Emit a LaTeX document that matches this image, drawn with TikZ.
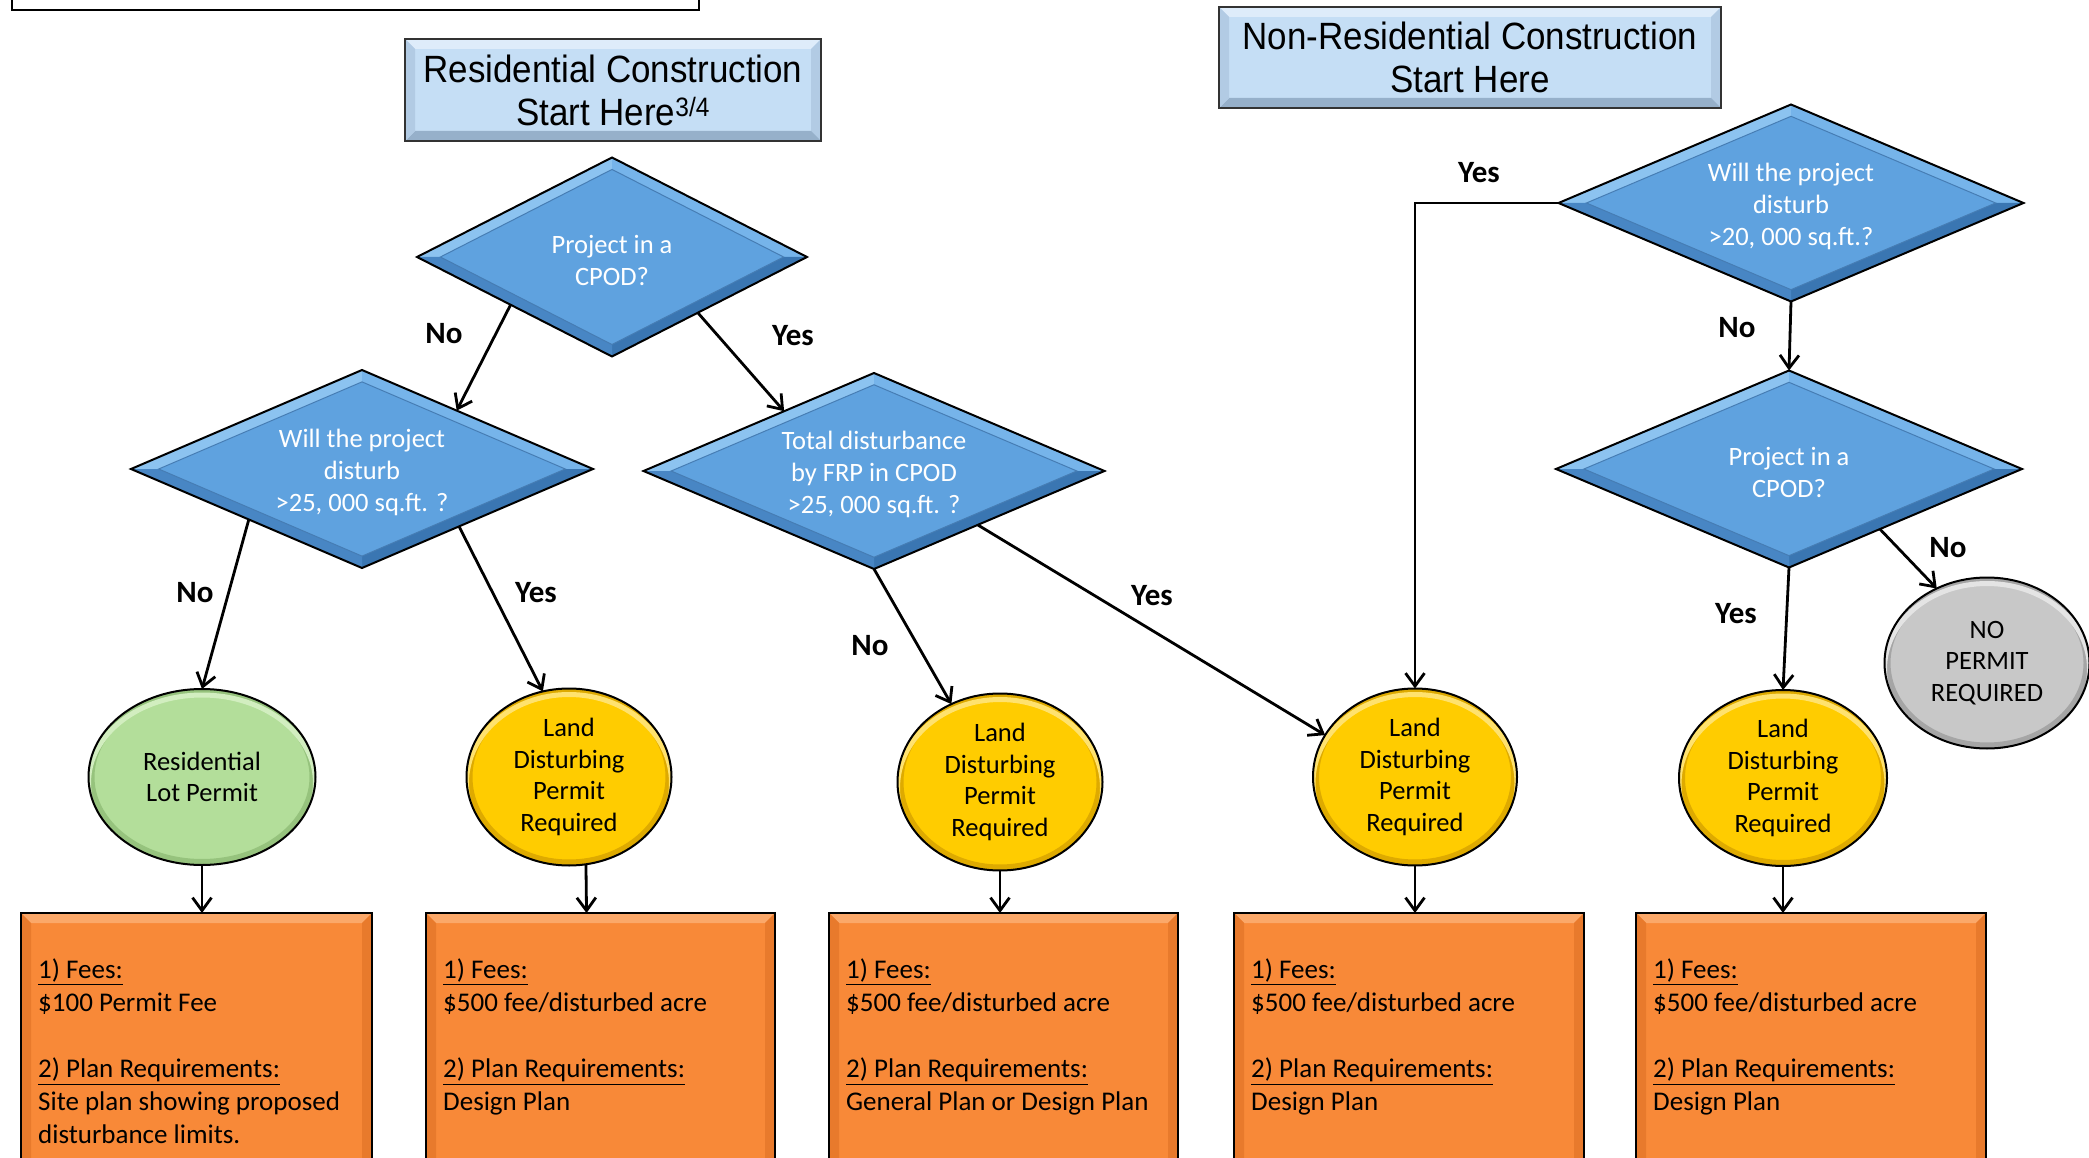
\documentclass[tikz,border=0pt]{standalone}
\usepackage{fontspec}
\setmainfont{Carlito}
\newfontfamily\titlefont[FakeStretch=0.92]{Liberation Sans}
\usetikzlibrary{shapes.geometric,arrows.meta,calc}
\definecolor{dfill}{RGB}{95,162,223}
\definecolor{dhi}{RGB}{140,195,240}
\definecolor{dhi2}{RGB}{118,180,234}
\definecolor{dlo}{RGB}{58,118,178}
\definecolor{dlo2}{RGB}{72,134,196}
\definecolor{dline}{RGB}{70,125,180}
\definecolor{yel}{RGB}{255,204,0}
\definecolor{yello}{RGB}{222,170,0}
\definecolor{yelhi}{RGB}{255,226,110}
\definecolor{grn}{RGB}{179,222,154}
\definecolor{grnlo}{RGB}{150,195,125}
\definecolor{grnhi}{RGB}{210,238,192}
\definecolor{gry}{RGB}{200,200,200}
\definecolor{grylo}{RGB}{165,165,165}
\definecolor{gryhi}{RGB}{228,228,228}
\definecolor{orng}{RGB}{248,137,56}
\definecolor{orhi}{RGB}{251,168,105}
\definecolor{orside}{RGB}{232,122,44}
\definecolor{orlo}{RGB}{205,105,35}
\definecolor{tblue}{RGB}{197,222,245}
\definecolor{tbhi}{RGB}{222,236,250}
\definecolor{tbside}{RGB}{178,203,228}
\definecolor{tblo}{RGB}{150,176,202}
\newcommand{\dtop}{\rule{0pt}{26pt}}
\tikzset{
  rbevel/.style n args={4}{path picture={
    \path (path picture bounding box.north west) coordinate (bvA)
          (path picture bounding box.north east) coordinate (bvB)
          (path picture bounding box.south east) coordinate (bvC)
          (path picture bounding box.south west) coordinate (bvD);
    \path ([shift={(10,10)}]bvA) coordinate (bva)
          ([shift={(-10,10)}]bvB) coordinate (bvb)
          ([shift={(-10,-10)}]bvC) coordinate (bvc)
          ([shift={(10,-10)}]bvD) coordinate (bvd);
    \fill[#1] (bvA) -- (bvB) -- (bvb) -- (bva) -- cycle;
    \fill[#2] (bvB) -- (bvC) -- (bvc) -- (bvb) -- cycle;
    \fill[#3] (bvC) -- (bvD) -- (bvd) -- (bvc) -- cycle;
    \fill[#2] (bvD) -- (bvA) -- (bva) -- (bvd) -- cycle;
  }},
  dbevel/.style={path picture={
    \path (path picture bounding box.center) coordinate (dvC)
          (path picture bounding box.north) coordinate (dvN)
          (path picture bounding box.south) coordinate (dvS)
          (path picture bounding box.east) coordinate (dvE)
          (path picture bounding box.west) coordinate (dvW);
    \path ($(dvC)!0.88!(dvN)$) coordinate (dvn)
          ($(dvC)!0.88!(dvS)$) coordinate (dvs)
          ($(dvC)!0.88!(dvE)$) coordinate (dve)
          ($(dvC)!0.88!(dvW)$) coordinate (dvw);
    \fill[dhi] (dvW) -- (dvN) -- (dvn) -- (dvw) -- cycle;
    \fill[dhi2] (dvN) -- (dvE) -- (dve) -- (dvn) -- cycle;
    \fill[dlo] (dvE) -- (dvS) -- (dvs) -- (dve) -- cycle;
    \fill[dlo2] (dvS) -- (dvW) -- (dvw) -- (dvs) -- cycle;
    \draw[dline, line width=1pt] (dvn) -- (dve) -- (dvs) -- (dvw) -- cycle;
  }},
  ebevel/.style 2 args={path picture={
    \draw[#1, line width=12pt] let \p1=(path picture bounding box.north east),
      \p2=(path picture bounding box.center) in
      (\p2) ellipse [x radius={\x1-\x2}, y radius={\y1-\y2}];
    \draw[#2, line width=5pt] let \p1=(path picture bounding box.north east),
      \p2=(path picture bounding box.center) in
      ([yshift=-6pt]\p2) ellipse [x radius={\x1-\x2}, y radius={\y1-\y2}];
  }},
  dia/.style={diamond, aspect=2.3, inner sep=0pt, outer sep=0pt, fill=dfill,
    draw=black, line width=2pt, text=white, align=center,
    font=\fontsize{26.5}{32}\selectfont, dbevel},
  ell/.style n args={3}{ellipse, inner sep=0pt, outer sep=0pt, fill=#1,
    draw=black, line width=2pt, align=center,
    font=\fontsize{26.5}{31.5}\selectfont, ebevel={#2}{#3}},
  obox/.style={rectangle, anchor=north west, inner sep=0pt, outer sep=0pt,
    minimum width=350, minimum height=300, fill=orng, draw=black,
    line width=2pt, rbevel={orhi}{orside}{orlo}{orside}},
  otext/.style={anchor=north west, inner sep=0pt, align=left,
    font=\fontsize{27}{33}\selectfont},
  titlebox/.style={rectangle, inner sep=0pt, outer sep=0pt, fill=tblue,
    draw=black!80, line width=2pt, align=center,
    font=\titlefont\fontsize{38}{43}\selectfont,
    rbevel={tbhi}{tbside}{tblo}{tbside}},
  lab/.style={font=\bfseries\fontsize{31}{36}\selectfont, inner sep=0pt},
  arr/.style={-{Straight Barb[length=13pt,width=19pt]}, line width=2.8pt}
}
\begin{document}
\begin{tikzpicture}[x=1pt,y=-1pt]
\useasboundingbox (0,0) rectangle (2089,1158);
\clip (0,0) rectangle (2089,1158);
\fill[white] (0,0) rectangle (2089,1158);

% cut-off box at top left
\node[draw=black, line width=2pt, fill=white, anchor=south west, inner sep=0pt,
  minimum width=687, minimum height=40] (topbox) at (11,11) {};

% titles
\node[titlebox, minimum width=416, minimum height=102] (rt) at (613,90)
  {Residential Construction\\Start Here\textsuperscript{3/4}};
\node[titlebox, minimum width=502, minimum height=101] (nt) at (1470,57.5)
  {Non-Residential Construction\\Start Here};

% decisions
\node[dia, minimum width=390, minimum height=199] (d1) at (612,257) {\dtop Project in a\\CPOD?};
\node[dia, minimum width=462, minimum height=198] (d2) at (362,469) {\dtop Will the project\\disturb\\>25, 000 sq.ft. ?};
\node[dia, minimum width=461, minimum height=196] (d3) at (874,471) {\dtop Total disturbance\\by FRP in CPOD\\>25, 000 sq.ft. ?};
\node[dia, minimum width=465, minimum height=197] (d4) at (1791,203) {\dtop Will the project\\disturb\\>20, 000 sq.ft.?};
\node[dia, minimum width=466, minimum height=197] (d5) at (1789,469) {\dtop Project in a\\CPOD?};

% outcomes
\node[ell={grn}{grnlo}{grnhi}, minimum width=227, minimum height=176] (e1) at (202,777) {Residential\\Lot Permit};
\node[ell={yel}{yello}{yelhi}, minimum width=205, minimum height=177] (e2) at (569,777) {Land\\Disturbing\\Permit\\Required};
\node[ell={yel}{yello}{yelhi}, minimum width=205, minimum height=177] (e3) at (1000,782) {Land\\Disturbing\\Permit\\Required};
\node[ell={yel}{yello}{yelhi}, minimum width=204, minimum height=177] (e4) at (1415,777) {Land\\Disturbing\\Permit\\Required};
\node[ell={yel}{yello}{yelhi}, minimum width=208, minimum height=176] (e5) at (1783,778) {Land\\Disturbing\\Permit\\Required};
\node[ell={gry}{grylo}{gryhi}, minimum width=205, minimum height=171] (e6) at (1987,663) {NO\\PERMIT\\REQUIRED};

% requirement boxes
\node[obox, minimum width=351] (b1) at (21,913) {};
\node[obox, minimum width=349] (b2) at (426,913) {};
\node[obox, minimum width=349] (b3) at (829,913) {};
\node[obox, minimum width=350] (b4) at (1234,913) {};
\node[obox, minimum width=350] (b5) at (1636,913) {};
\node[otext] (t1) at ([shift={(17,46)}]b1.north west)
  {\underline{1) Fees:}\\\$100 Permit Fee\\[33pt]\underline{2) Plan Requirements:}\\Site plan showing proposed\\disturbance limits.};
\node[otext] (t2) at ([shift={(17,46)}]b2.north west)
  {\underline{1) Fees:}\\\$500 fee/disturbed acre\\[33pt]\underline{2) Plan Requirements:}\\Design Plan};
\node[otext] (t3) at ([shift={(17,46)}]b3.north west)
  {\underline{1) Fees:}\\\$500 fee/disturbed acre\\[33pt]\underline{2) Plan Requirements:}\\General Plan or Design Plan};
\node[otext] (t4) at ([shift={(17,46)}]b4.north west)
  {\underline{1) Fees:}\\\$500 fee/disturbed acre\\[33pt]\underline{2) Plan Requirements:}\\Design Plan};
\node[otext] (t5) at ([shift={(17,46)}]b5.north west)
  {\underline{1) Fees:}\\\$500 fee/disturbed acre\\[33pt]\underline{2) Plan Requirements:}\\Design Plan};

% connectors
\draw[arr] ($(d1.south)!0.52!(d1.west)$) -- ($(d2.north)!0.41!(d2.east)$);
\draw[arr] ($(d1.south)!0.44!(d1.east)$) -- ($(d3.north)!0.39!(d3.west)$);
\draw[arr] ($(d2.south)!0.49!(d2.west)$) -- (e1.north);
\draw[arr] ($(d2.south)!0.42!(d2.east)$) -- (e2.107);
\draw[arr] (d3.south) -- (e3.122);
\draw[arr] ($(d3.south)!0.45!(d3.east)$) -- (e4.155);
\draw[arr] (d4.west) -| (e4.north);
\draw[arr] (d4.south) -- (d5.north);
\draw[arr] (d5.south) -- (e5.north);
\draw[arr] ($(d5.south)!0.39!(d5.east)$) -- (e6.124);
\draw[arr] (e1.south) -- (e1.south |- b1.north);
\draw[arr] (e2.281) -- ($(b2.north west)!0.46!(b2.north east)$);
\draw[arr] (e3.south) -- (e3.south |- b3.north);
\draw[arr] (e4.south) -- (e4.south |- b4.north);
\draw[arr] (e5.south) -- (e5.south |- b5.north);

% labels
\node[lab] (l1) at (444,334) {No};
\node[lab] (l2) at (793,336) {Yes};
\node[lab] (l3) at (195,593) {No};
\node[lab] (l4) at (536,593) {Yes};
\node[lab] (l5) at (870,646) {No};
\node[lab] (l6) at (1152,596) {Yes};
\node[lab] (l7) at (1479,173) {Yes};
\node[lab] (l8) at (1737,328) {No};
\node[lab] (l9) at (1948,548) {No};
\node[lab] (l10) at (1736,614) {Yes};
\end{tikzpicture}
\end{document}
